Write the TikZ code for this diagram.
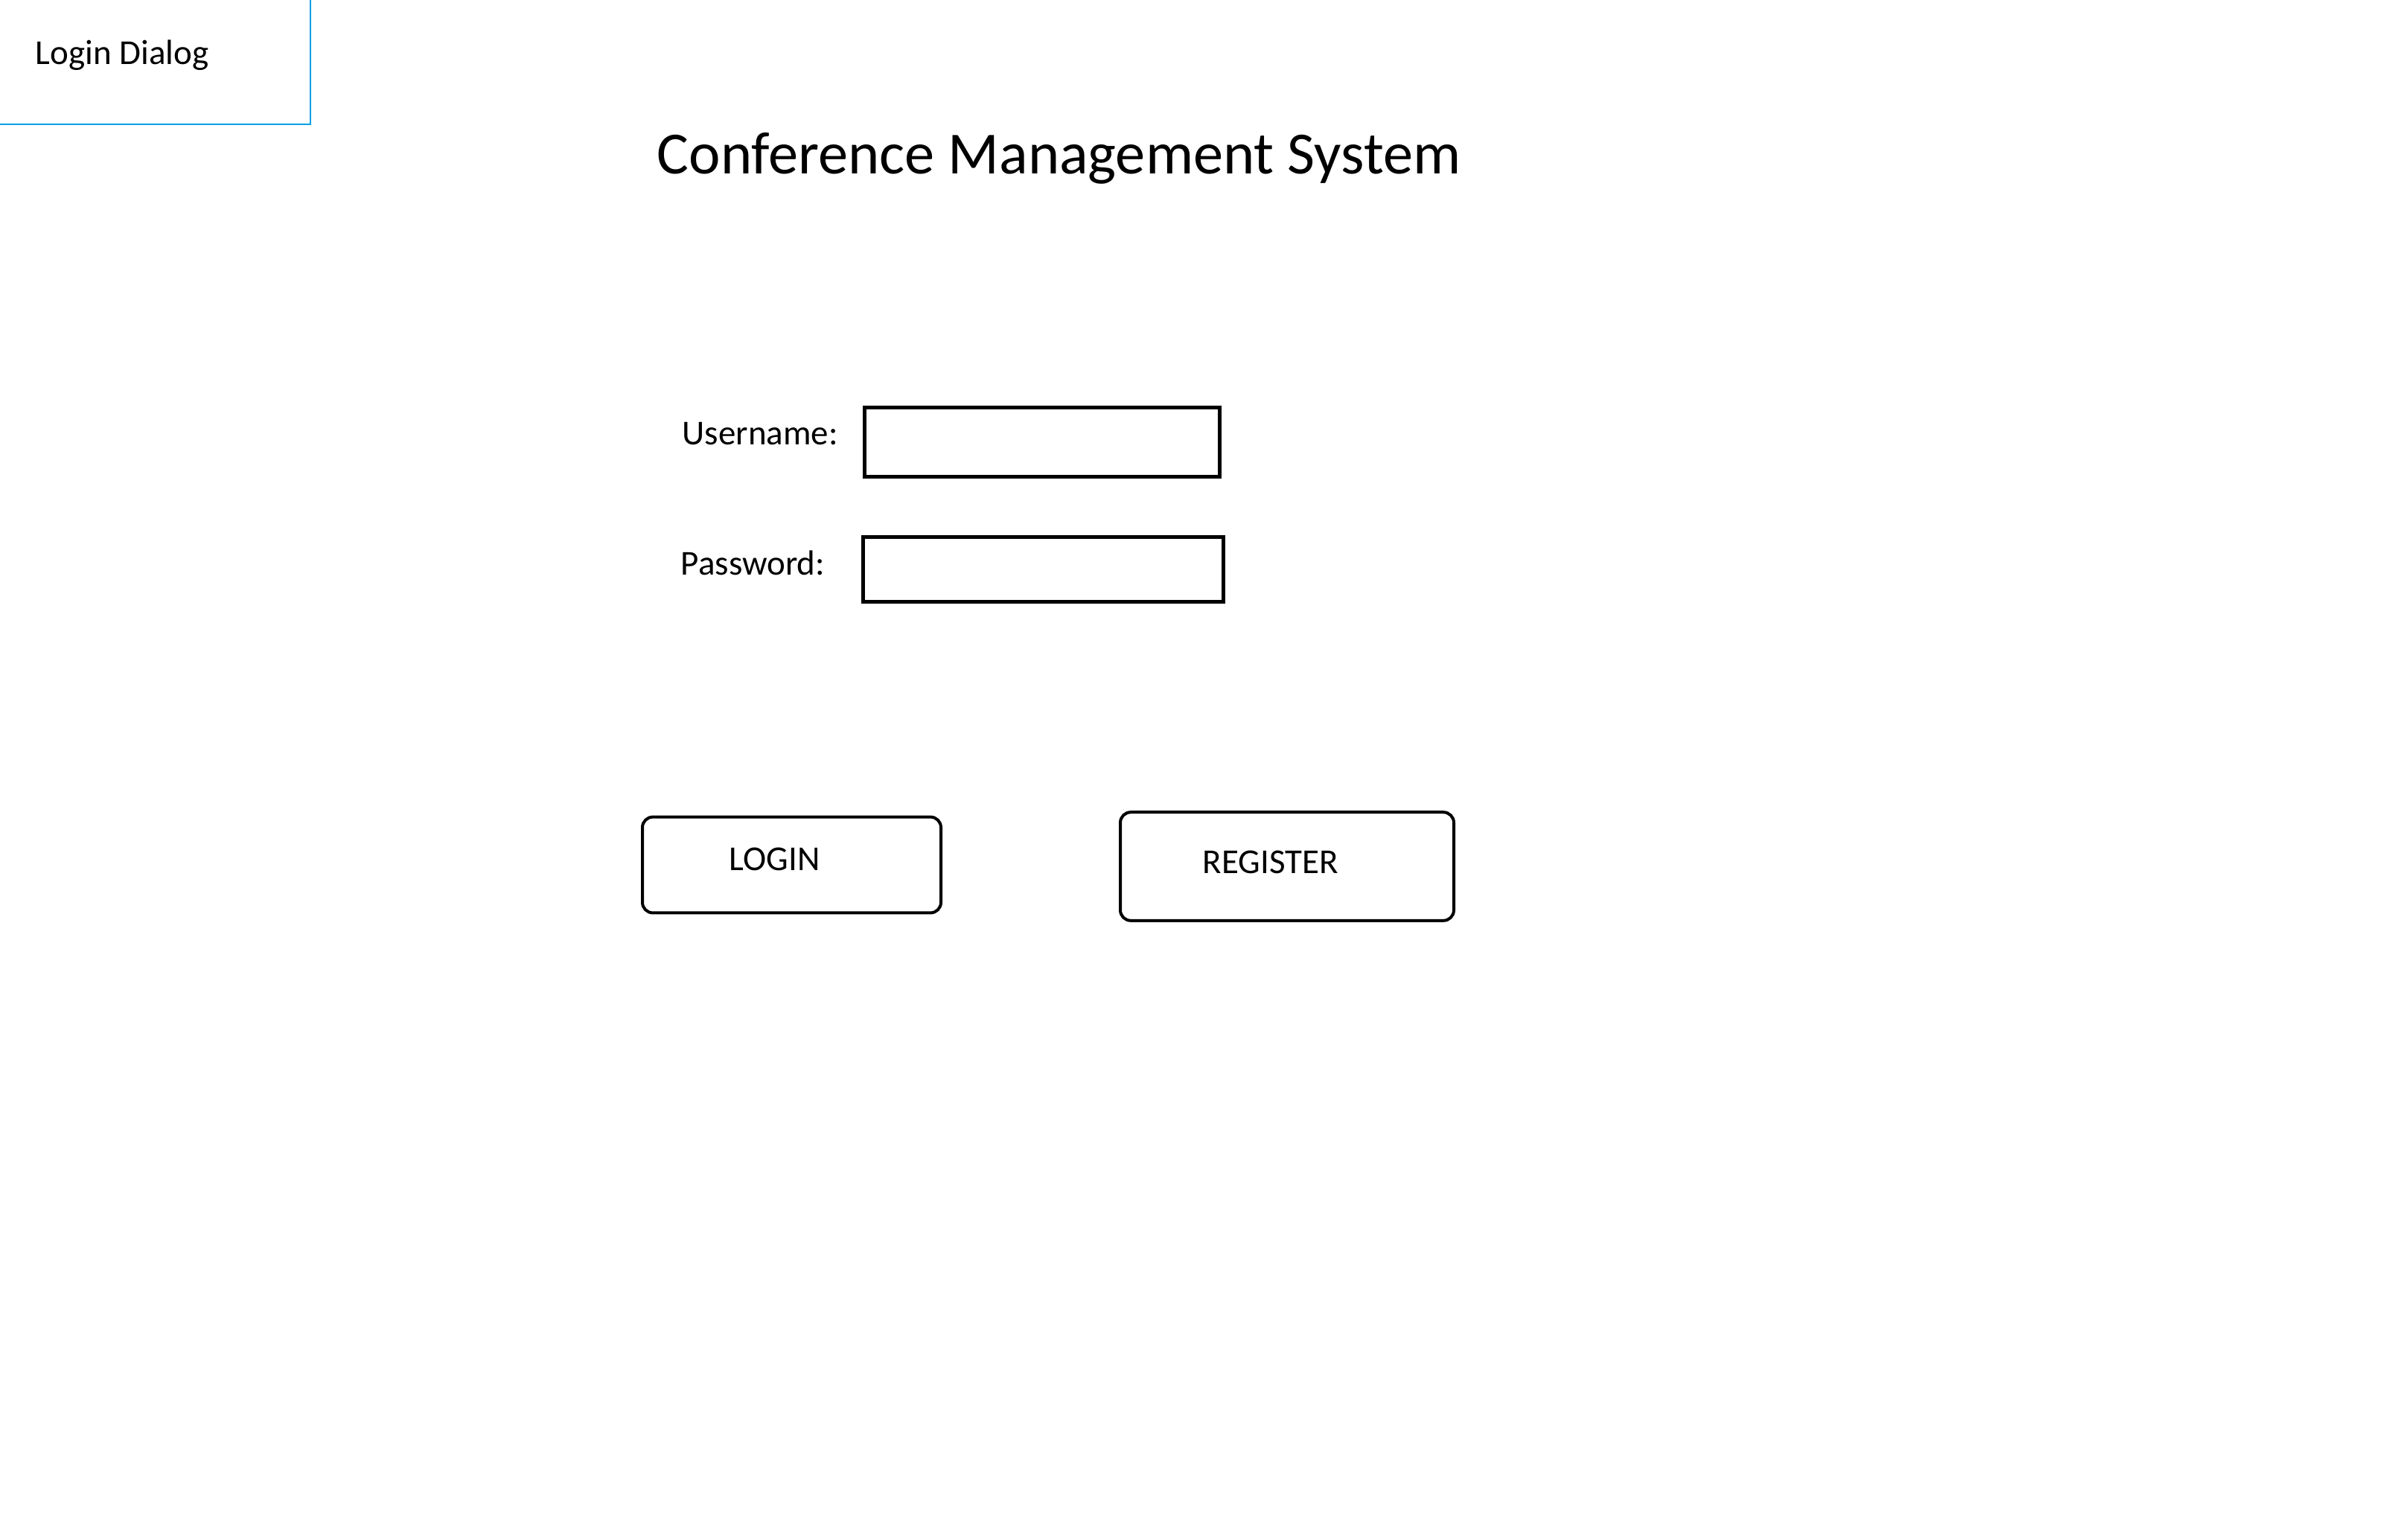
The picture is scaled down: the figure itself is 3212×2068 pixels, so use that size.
\documentclass[tikz,border=0pt]{standalone}
\usepackage{fontspec}
\setmainfont{Carlito}
\usepackage{tikz}
\usetikzlibrary{positioning}
\definecolor{dlgblue}{RGB}{0,160,227}

\begin{document}
\begin{tikzpicture}[x=0.25pt,y=-0.25pt,
  field/.style={draw,line width=1.25pt,inner sep=0pt},
  btn/.style={draw,line width=1pt,rounded corners=3.5pt,inner sep=0pt},
  lbl/.style={anchor=base west,inner sep=0pt,font=\fontsize{11.75}{14}\selectfont}]
\useasboundingbox (0,0) rectangle (3212,2068);
% Dialog tab
\coordinate (tabtop) at (417,0);
\coordinate (tableft) at (0,167);
\draw[dlgblue,line width=0.5pt] (tabtop) |- (tableft);
\node[lbl] (tab) at (47,86) {Login Dialog};
\node[lbl,font=\fontsize{20.1}{24}\selectfont] (title) at (882,233) {Conference Management System};
% Fields
\node[lbl] (userlbl) at (916,597) {Username:};
\node[field,minimum width=119.4pt,minimum height=23.4pt] (userbox) at (1400,594) {};
\node[lbl] (passlbl) at (914,772) {Password:};
\node[field,minimum width=121pt,minimum height=21.9pt] (passbox) at (1401,765) {};
% Buttons
\node[btn,minimum width=100.25pt,minimum height=32.2pt] (loginbtn) at (1063.5,1162) {};
\node[lbl] (logintxt) at (979,1169) {LOGIN};
\node[btn,minimum width=112pt,minimum height=36.4pt] (regbtn) at (1729,1164) {};
\node[lbl] (regtxt) at (1615,1173) {REGISTER};
\end{tikzpicture}
\end{document}
